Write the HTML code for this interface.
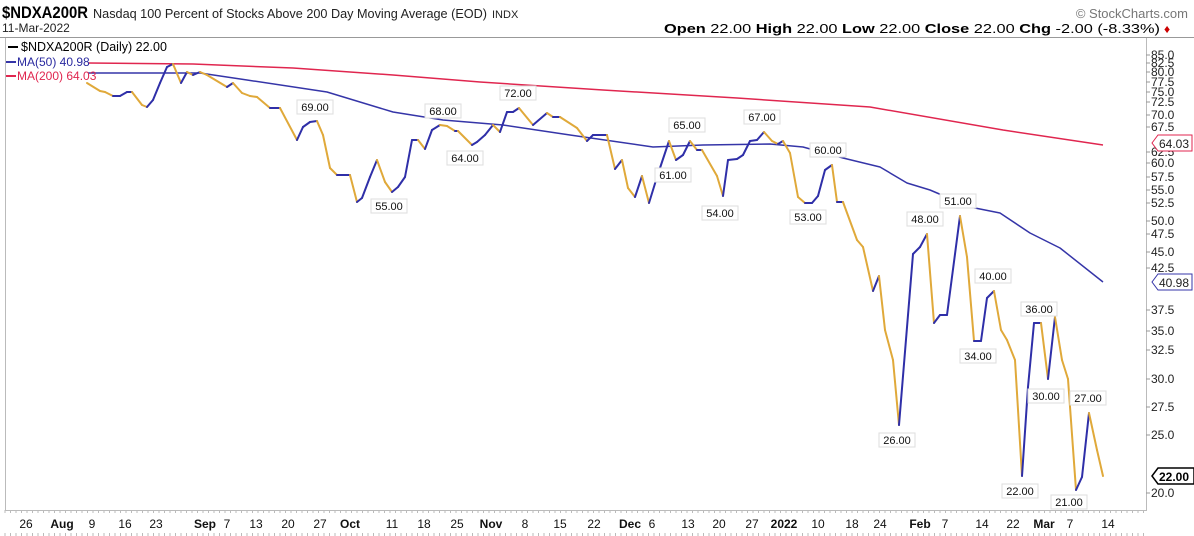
<!DOCTYPE html>
<html><head><meta charset="utf-8"><style>
body{margin:0;background:#fff;}
svg{display:block;font-family:"Liberation Sans",sans-serif;}
</style></head><body>
<svg id="sv" width="1194" height="536" viewBox="0 0 1194 536" xmlns="http://www.w3.org/2000/svg">
<rect width="1194" height="536" fill="#fff"/>
<text x="2" y="18" font-size="17" font-weight="bold" fill="#000" textLength="86" lengthAdjust="spacingAndGlyphs">$NDXA200R</text>
<text x="93" y="18" font-size="12.5" fill="#222" textLength="394" lengthAdjust="spacingAndGlyphs">Nasdaq 100 Percent of Stocks Above 200 Day Moving Average (EOD)</text>
<text x="492" y="18" font-size="11" fill="#222">INDX</text>
<text x="2" y="32" font-size="12" fill="#222">11-Mar-2022</text>
<text x="1188" y="18" font-size="13" fill="#777" text-anchor="end">© StockCharts.com</text>
<text x="664" y="33" font-size="13" fill="#000" textLength="496" lengthAdjust="spacingAndGlyphs"><tspan font-weight="bold">Open</tspan> 22.00 <tspan font-weight="bold">High</tspan> 22.00 <tspan font-weight="bold">Low</tspan> 22.00 <tspan font-weight="bold">Close</tspan> 22.00 <tspan font-weight="bold">Chg</tspan> -2.00 (-8.33%)</text>
<text x="1164" y="33" font-size="12" fill="#c00">♦</text>
<rect x="5.5" y="37.5" width="1141" height="473" fill="none" stroke="#bbb"/>
<line x1="0" y1="37.5" x2="1194" y2="37.5" stroke="#999"/>
<g fill="none" stroke-linejoin="round">
<polyline stroke="#e0264f" stroke-width="1.5" points="88,63 193,64 293,68 393,75 480,82 603,90 737,98 870,107 1003,130 1103,145"/>
<polyline stroke="#3535a8" stroke-width="1.5" points="88,73 110,73 200,73 247,80 327,92 393,112 443,120 503,125 570,135 653,147 703,145 770,144 803,147 843,158 880,167 907,183 930,190 970,207 1000,213 1030,233 1060,248 1103,282"/>
</g>
<g id="price" fill="none" stroke-width="2" stroke-linecap="round"></g>
<g font-size="11" fill="#111" text-anchor="middle" id="lbls"></g>
<g font-size="12" fill="#222" id="yax"></g>
<g font-size="12" fill="#111" id="xax"></g>
<rect x="6" y="40" width="160" height="14" fill="#fff"/>
<line x1="8" y1="47" x2="18" y2="47" stroke="#000" stroke-width="2"/>
<text x="21" y="51" font-size="12.5" fill="#000">$NDXA200R (Daily) 22.00</text>
<line x1="6" y1="62" x2="16" y2="62" stroke="#3535a8" stroke-width="2"/>
<text x="17" y="66" font-size="12" fill="#2a2aa0">MA(50) 40.98</text>
<line x1="6" y1="76" x2="16" y2="76" stroke="#e0264f" stroke-width="2"/>
<text x="17" y="80" font-size="12" fill="#e0264f">MA(200) 64.03</text>
<g font-size="12">
<path d="M1152,143 l6,-8 h34 v16 h-34 z" fill="#fff" stroke="#e0264f"/><text x="1159" y="148" fill="#222">64.03</text>
<path d="M1152,282 l6,-8 h34 v16 h-34 z" fill="#fff" stroke="#3535a8"/><text x="1159" y="287" fill="#222">40.98</text>
<path d="M1152,476 l6,-8 h36 v16 h-36 z" fill="#fff" stroke="#000" stroke-width="1.5"/><text x="1159" y="481" fill="#000" font-weight="bold">22.00</text>
</g>
</svg>
<script>
var P=[[87,83],[100,91],[105,92],[113,96],[120,96],[127,92],[132,92],[142,105],[147,107],[153,100],[160,83],[167,67],[173,64],[181,83],[187,72],[193,75],[200,72],[207,75],[227,87],[233,83],[242,93],[250,96],[257,97],[270,108],[280,108],[297,140],[303,127],[310,122],[317,121],[323,135],[330,168],[337,175],[350,175],[357,202],[362,198],[370,177],[377,160],[385,182],[392,192],[398,187],[405,177],[412,140],[418,140],[425,149],[432,130],[440,125],[447,126],[455,131],[458,131],[472,145],[477,142],[485,135],[493,125],[500,132],[507,112],[513,112],[519,108],[533,125],[547,113],[553,117],[560,117],[577,128],[587,141],[593,135],[607,135],[615,169],[622,160],[628,188],[635,197],[642,176],[649,203],[657,177],[669,141],[676,160],[683,155],[690,141],[697,150],[702,150],[717,176],[723,196],[728,160],[737,159],[743,155],[750,141],[757,140],[764,132],[772,141],[778,144],[783,141],[790,153],[798,197],[805,203],[812,203],[818,196],[825,170],[832,165],[837,202],[843,202],[857,240],[863,247],[873,291],[879,276],[885,330],[893,360],[899,425],[913,254],[920,247],[927,234],[934,323],[940,315],[947,315],[960,216],[967,257],[974,341],[981,341],[987,298],[994,291],[1001,330],[1007,340],[1015,360],[1022,476],[1028,387],[1034,323],[1041,323],[1048,379],[1055,317],[1062,360],[1068,379],[1076,490],[1082,477],[1089,413],[1097,450],[1103,476]];
var NS="http://www.w3.org/2000/svg";
function mk(parent,tag,attrs,txt){var e=document.createElementNS(NS,tag);for(var k in attrs)e.setAttribute(k,attrs[k]);if(txt)e.textContent=txt;parent.appendChild(e);return e;}
var g=document.getElementById('price');
for(var i=1;i<P.length;i++){var up=P[i][1]<=P[i-1][1];mk(g,'line',{x1:P[i-1][0],y1:P[i-1][1],x2:P[i][0],y2:P[i][1],stroke:up?'#2f2fa8':'#e0a93a'});}
var L=[["69.00",315,107],["68.00",443,111],["64.00",465,158],["55.00",389,206],["72.00",518,93],["65.00",687,125],["61.00",673,175],["54.00",720,213],["67.00",762,117],["60.00",828,150],["53.00",808,217],["26.00",897,440],["48.00",925,219],["51.00",958,201],["40.00",993,276],["34.00",978,356],["36.00",1039,309],["30.00",1046,396],["27.00",1088,398],["22.00",1020,491],["21.00",1069,502]];
var lg=document.getElementById('lbls');
L.forEach(function(l){mk(lg,'rect',{x:l[1]-18,y:l[2]-7,width:36,height:14,fill:'#fff',stroke:'#ddd'});mk(lg,'text',{x:l[1],y:l[2]+4},l[0]);});
var Y=[["85.0",55],["82.5",63],["80.0",72],["77.5",82],["75.0",92],["72.5",102],["70.0",115],["67.5",127],["62.5",152],["60.0",163],["57.5",177],["55.0",190],["52.5",203],["50.0",221],["47.5",234],["45.0",252],["42.5",268],["37.5",310],["35.0",331],["32.5",350],["30.0",379],["27.5",407],["25.0",435],["20.0",493]];
var yg=document.getElementById('yax');
Y.forEach(function(y){mk(yg,'line',{x1:1146,y1:y[1],x2:1150,y2:y[1],stroke:'#999'});mk(yg,'text',{x:1151,y:y[1]+4},y[0]);});
var X=[["26",26],["Aug",62,1],["9",92],["16",125],["23",156],["Sep",205,1],["7",227],["13",256],["20",288],["27",320],["Oct",350,1],["11",392],["18",424],["25",457],["Nov",491,1],["8",525],["15",560],["22",594],["Dec",630,1],["6",652],["13",688],["20",719],["27",752],["2022",784,1],["10",818],["18",852],["24",880],["Feb",920,1],["7",945],["14",982],["22",1013],["Mar",1044,1],["7",1070],["14",1108]];
var xg=document.getElementById('xax');
X.forEach(function(x){var a={x:x[1],y:528,'text-anchor':'middle'};if(x[2])a['font-weight']='bold';mk(xg,'text',a,x[0]);});
for(var k=5;k<1146;k+=5.5){mk(xg,'line',{x1:k,y1:510,x2:k,y2:513,stroke:'#bbb'});mk(xg,'line',{x1:k,y1:533,x2:k,y2:536,stroke:'#bbb'});}
</script>
</body></html>
